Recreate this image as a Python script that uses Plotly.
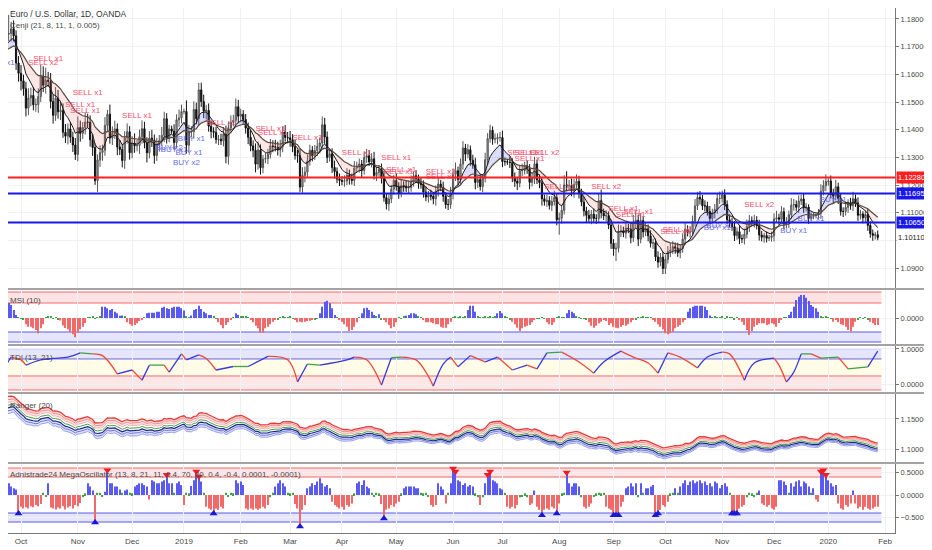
import numpy as np
import pandas as pd
import plotly.graph_objects as go
from plotly.subplots import make_subplots

# EUR/USD daily candles, OANDA, 19 Sep 2018 .. 29 Jan 2020 (one value per trading day)
first_open = 1.1669
closes = [
    1.1672, 1.1777, 1.1745, 1.1748, 1.1765, 1.1739, 1.1641, 1.1604, 1.1577, 1.1548,
    1.1478, 1.1515, 1.1524, 1.1490, 1.1491, 1.1520, 1.1594, 1.1561, 1.1579, 1.1575,
    1.1502, 1.1452, 1.1514, 1.1465, 1.1470, 1.1391, 1.1377, 1.1403, 1.1373, 1.1345,
    1.1311, 1.1408, 1.1387, 1.1408, 1.1428, 1.1427, 1.1364, 1.1336, 1.1216, 1.1291,
    1.1318, 1.1326, 1.1416, 1.1456, 1.1370, 1.1387, 1.1403, 1.1338, 1.1329, 1.1289,
    1.1370, 1.1393, 1.1317, 1.1352, 1.1342, 1.1343, 1.1375, 1.1404, 1.1353, 1.1317,
    1.1370, 1.1363, 1.1307, 1.1346, 1.1361, 1.1380, 1.1440, 1.1370, 1.1403, 1.1395,
    1.1354, 1.1436, 1.1443, 1.1466, 1.1466, 1.1344, 1.1393, 1.1393, 1.1473, 1.1440,
    1.1544, 1.1502, 1.1467, 1.1470, 1.1413, 1.1394, 1.1391, 1.1365, 1.1366, 1.1360,
    1.1385, 1.1304, 1.1407, 1.1427, 1.1434, 1.1483, 1.1449, 1.1456, 1.1437, 1.1406,
    1.1373, 1.1342, 1.1326, 1.1276, 1.1327, 1.1263, 1.1294, 1.1296, 1.1311, 1.1342,
    1.1339, 1.1337, 1.1327, 1.1339, 1.1392, 1.1372, 1.1371, 1.1364, 1.1339, 1.1307,
    1.1306, 1.1193, 1.1235, 1.1247, 1.1286, 1.1326, 1.1306, 1.1325, 1.1340, 1.1352,
    1.1418, 1.1374, 1.1300, 1.1313, 1.1264, 1.1249, 1.1222, 1.1217, 1.1214, 1.1215,
    1.1236, 1.1222, 1.1217, 1.1262, 1.1265, 1.1276, 1.1253, 1.1300, 1.1306, 1.1284,
    1.1295, 1.1235, 1.1246, 1.1258, 1.1226, 1.1155, 1.1132, 1.1150, 1.1186, 1.1217,
    1.1195, 1.1171, 1.1199, 1.1196, 1.1190, 1.1191, 1.1215, 1.1234, 1.1223, 1.1207,
    1.1202, 1.1175, 1.1157, 1.1164, 1.1160, 1.1151, 1.1179, 1.1204, 1.1193, 1.1160,
    1.1130, 1.1130, 1.1169, 1.1240, 1.1252, 1.1220, 1.1276, 1.1334, 1.1312, 1.1328,
    1.1290, 1.1274, 1.1210, 1.1220, 1.1195, 1.1225, 1.1292, 1.1368, 1.1398, 1.1366,
    1.1367, 1.1372, 1.1372, 1.1285, 1.1285, 1.1283, 1.1282, 1.1226, 1.1214, 1.1207,
    1.1252, 1.1253, 1.1270, 1.1261, 1.1210, 1.1224, 1.1277, 1.1219, 1.1209, 1.1151,
    1.1141, 1.1145, 1.1127, 1.1141, 1.1155, 1.1075, 1.1081, 1.1109, 1.1201, 1.1198,
    1.1199, 1.1180, 1.1202, 1.1214, 1.1172, 1.1139, 1.1107, 1.1091, 1.1079, 1.1095,
    1.1080, 1.1080, 1.1144, 1.1100, 1.1089, 1.1090, 1.1056, 1.0990, 1.0970, 1.0972,
    1.1033, 1.1035, 1.1027, 1.1045, 1.1042, 1.1010, 1.1063, 1.1073, 1.1005, 1.1072,
    1.1031, 1.1043, 1.1017, 1.0990, 1.0992, 1.0941, 1.0922, 1.0940, 1.0899, 1.0932,
    1.0960, 1.0966, 1.0978, 1.0972, 1.0956, 1.0971, 1.1005, 1.1040, 1.1030, 1.1032,
    1.1070, 1.1125, 1.1156, 1.1150, 1.1125, 1.1125, 1.1105, 1.1080, 1.1100, 1.1112,
    1.1152, 1.1152, 1.1165, 1.1130, 1.1075, 1.1067, 1.1050, 1.1018, 1.1032, 1.1007,
    1.1006, 1.1023, 1.1051, 1.1072, 1.1067, 1.1073, 1.1055, 1.1020, 1.1012, 1.1018,
    1.1008, 1.1011, 1.1017, 1.1078, 1.1082, 1.1077, 1.1104, 1.1060, 1.1065, 1.1093,
    1.1128, 1.1130, 1.1120, 1.1143, 1.1150, 1.1120, 1.1121, 1.1080, 1.1087, 1.1090,
    1.1092, 1.1099, 1.1178, 1.1198, 1.1213, 1.1215, 1.1172, 1.1160, 1.1194, 1.1152,
    1.1105, 1.1105, 1.1120, 1.1134, 1.1126, 1.1151, 1.1136, 1.1091, 1.1096, 1.1082,
    1.1094, 1.1055, 1.1025, 1.1019, 1.1021, 1.1011,
]
# wick length above / below the candle body, in pips
wick_up = [
    30, 45, 35, 67, 25, 30, 20, 25, 30, 22,  25, 35, 28, 30, 22, 30, 40, 35, 45, 30,
    30, 25, 40, 30, 35, 25, 30, 20, 25, 20,  25, 40, 25, 20, 35, 30, 25, 20, 15, 20,
    25, 20, 30, 16, 35, 25, 30, 20, 25, 20,  25, 30, 20, 25, 35, 20, 25, 30, 25, 20,
    25, 30, 20, 25, 20, 30, 25, 20, 15, 12,  25, 20, 30, 25, 10, 40, 25, 20, 30, 25,
    25, 26, 25, 20, 25, 20, 15, 20, 15, 20,  25, 30, 20, 25, 20, 30, 25, 20, 15, 20,
    20, 25, 20, 25, 30, 20, 15, 20, 20, 25,  20, 25, 20, 25, 20, 25, 20, 25, 20, 25,
    20, 25, 30, 20, 25, 20, 15, 20, 25, 20,  30, 25, 20, 15, 20, 25, 15, 20, 15, 20,
    25, 20, 20, 25, 20, 20, 15, 20, 25, 20,  20, 25, 20, 15, 20, 25, 15, 20, 15, 20,
    25, 15, 20, 15, 20, 25, 20, 15, 20, 15,  20, 15, 20, 15, 20, 15, 20, 25, 15, 20,
    15, 20, 25, 20, 30, 15, 20, 25, 15, 20,  15, 20, 25, 15, 20, 15, 25, 20, 20, 14,
    20, 15, 20, 25, 15, 10, 20, 15, 20, 15,  20, 25, 15, 20, 15, 20, 25, 15, 20, 15,
    15, 20, 15, 20, 25, 15, 20, 20, 35, 49,  20, 25, 20, 25, 20, 15, 20, 15, 20, 15,
    20, 15, 25, 40, 15, 20, 15, 20, 15, 20,  25, 20, 15, 20, 15, 20, 30, 35, 20, 25,
    15, 20, 15, 20, 15, 15, 20, 15, 20, 15,  20, 25, 20, 15, 20, 15, 20, 25, 15, 20,
    20, 25, 20, 23, 15, 20, 15, 20, 15, 20,  20, 25, 15, 20, 15, 20, 15, 20, 15, 20,
    15, 20, 25, 20, 15, 20, 15, 20, 15, 10,  15, 10, 15, 20, 25, 15, 20, 15, 20, 15,
    25, 20, 15, 20, 15, 20, 15, 10, 15, 10,   5, 15, 25, 20, 26, 10, 20, 15, 25, 15,
    20, 15, 20, 15, 20, 25, 15, 20, 15, 10,  15, 20, 15, 15, 10, 15,
]
wick_dn = [
    20, 25, 30, 25, 30, 20, 25, 30, 35, 25,  30, 25, 30, 20, 25, 30, 20, 25, 30, 20,
    25, 30, 20, 25, 30, 20, 25, 30, 20, 25,  20, 25, 30, 20, 25, 20, 25, 30, 15, 40,
    25, 30, 20, 25, 20, 25, 20, 30, 20, 25,  30, 20, 25, 20, 25, 20, 30, 25, 20, 35,
    20, 25, 30, 20, 25, 20, 25, 20, 15, 10,  25, 20, 25, 20, 10, 30, 25, 20, 25, 20,
    25, 20, 25, 30, 20, 25, 20, 15, 20, 15,  20, 25, 30, 20, 15, 20, 25, 20, 15, 20,
    25, 20, 25, 30, 20, 25, 20, 15, 20, 15,  20, 15, 20, 25, 20, 15, 20, 25, 20, 15,
    25, 17, 20, 25, 20, 15, 20, 15, 20, 25,  20, 25, 20, 15, 20, 25, 15, 20, 15, 20,
    15, 20, 15, 20, 15, 20, 25, 15, 20, 15,  20, 15, 20, 15, 20, 15, 20, 25, 15, 20,
    15, 20, 15, 20, 15, 20, 15, 20, 15, 20,  15, 20, 15, 20, 15, 20, 25, 20, 15, 20,
    15, 20, 15, 20, 25, 20, 15, 20, 25, 15,  20, 15, 25, 20, 15, 20, 15, 20, 15, 20,
    15, 20, 15, 20, 15, 10, 20, 15, 20, 25,  15, 20, 15, 20, 25, 15, 20, 15, 20, 25,
    15, 20, 15, 20, 15, 20, 54, 20, 15, 20,  15, 20, 25, 15, 20, 15, 20, 25, 15, 20,
    15, 20, 15, 20, 15, 20, 15, 20, 25, 44,  15, 20, 15, 20, 15, 20, 15, 20, 25, 15,
    20, 15, 20, 15, 20, 15, 20, 15, 20, 20,  15, 20, 15, 20, 15, 20, 15, 20, 15, 20,
    15, 20, 15, 20, 15, 20, 15, 20, 15, 20,  15, 20, 15, 20, 15, 20, 15, 20, 15, 20,
    15, 20, 15, 20, 15, 20, 15, 20, 15, 20,  15, 10, 15, 20, 15, 20, 15, 20, 15, 20,
    15, 20, 15, 20, 15, 20, 15, 20, 10, 10,  10, 15, 20, 15, 20, 15, 20, 25, 15, 20,
    15, 20, 15, 20, 15, 20, 15, 20, 15, 20,  15, 20, 15, 20, 15, 10,
]

# price levels marked on the chart and the last price
level_prices = [1.12280, 1.11695, 1.10650]
last_price = 1.10110

# Cenji signal labels: bar number, price, text
sig_bar = [0, 19, 17, 35, 32, 34, 55, 77, 76, 75,
           68, 70, 89, 109, 110, 124, 144, 160, 161, 162,
           178, 178, 211, 214, 220, 214, 226, 245, 252, 255,
           258, 273, 274, 290, 291, 307, 321, 328, 337]
sig_price = [1.1641, 1.1656, 1.1641, 1.1533, 1.1490, 1.1468, 1.1450, 1.1367, 1.1316, 1.1280,
             1.1334, 1.1327, 1.1425, 1.1403, 1.1388, 1.1370, 1.1316, 1.1298, 1.1248, 1.1255,
             1.1248, 1.1230, 1.1316, 1.1316, 1.1316, 1.1295, 1.1193, 1.1193, 1.1114, 1.1092,
             1.1103, 1.1031, 1.1038, 1.1045, 1.1053, 1.1129, 1.1035, 1.1078, 1.1147]
sig_text = ['BUY x1', 'SELL x1', 'SELL x2', 'SELL x1', 'SELL x1', 'SELL x1', 'SELL x1', 'BUY x1', 'BUY x1', 'BUY x2',
            'BUY x2', 'BUY x1', 'SELL x1', 'SELL x1', 'SELL x1', 'SELL x1', 'SELL x1', 'SELL x1', 'SELL x1', 'SELL x1',
            'SELL x2', 'SELL x1', 'SELL x1', 'SELL x1', 'SELL x2', 'SELL x1', 'SELL x1', 'SELL x2', 'SELL x1', 'SELL x1',
            'SELL x1', 'SELL x1', 'SELL x1', 'BUY x1', 'BUY x1', 'SELL x2', 'BUY x1', 'BUY x1', 'BUY x1']

# MSI (10) histogram, one value per bar
msi = [
    0.32, 0.44, 0.64, 0.60, 0.52, 0.32, 0.12, 0.04, -0.03, -0.05,
    -0.25, -0.35, -0.35, -0.41, -0.48, -0.61, -0.41, -0.25, 0.04, 0.06,
    0.05, -0.04, 0.03, -0.06, -0.10, -0.30, -0.40, -0.45, -0.55, -0.65,
    -0.77, -0.60, -0.45, -0.35, -0.20, 0.03, 0.04, 0.05, -0.03, 0.04,
    0.05, 0.45, 0.45, 0.39, 0.32, 0.36, 0.25, 0.19, 0.09, 0.10,
    0.05, -0.17, -0.25, -0.31, -0.28, -0.21, -0.12, -0.08, 0.03, 0.19,
    0.21, 0.21, 0.21, 0.25, 0.25, 0.41, 0.45, 0.39, 0.36, 0.41,
    0.45, 0.45, 0.45, 0.39, 0.30, 0.05, 0.04, 0.10, 0.32, 0.36,
    0.49, 0.36, 0.25, 0.19, 0.12, 0.12, 0.05, -0.03, -0.17, -0.28,
    -0.41, -0.28, -0.17, -0.08, 0.04, 0.19, 0.12, 0.05, 0.05, 0.05,
    0.04, -0.08, -0.17, -0.31, -0.41, -0.59, -0.59, -0.41, -0.35, -0.25,
    -0.15, -0.08, -0.05, 0.04, 0.05, 0.03, 0.04, 0.05, -0.03, -0.08,
    -0.17, -0.15, -0.17, -0.15, -0.12, -0.11, -0.08, -0.05, -0.04, 0.19,
    0.45, 0.65, 0.69, 0.59, 0.39, 0.12, 0.04, -0.08, -0.15, -0.25,
    -0.35, -0.52, -0.48, -0.35, -0.17, 0.04, 0.19, 0.39, 0.41, 0.32,
    0.25, 0.12, 0.05, 0.15, -0.05, -0.08, -0.17, -0.28, -0.41, -0.35,
    -0.17, 0.03, -0.04, 0.05, 0.09, 0.12, 0.19, 0.19, 0.15, 0.05,
    0.03, -0.08, -0.17, -0.17, -0.17, -0.21, -0.25, -0.25, -0.35, -0.39,
    -0.39, -0.25, -0.15, 0.04, 0.05, 0.04, 0.05, 0.03, 0.05, 0.32,
    0.49, 0.49, 0.25, 0.05, 0.04, 0.03, 0.05, 0.04, 0.05, 0.04,
    0.05, 0.19, 0.28, 0.19, 0.05, 0.04, -0.05, -0.15, -0.25, -0.39,
    -0.52, -0.41, -0.35, -0.31, -0.28, -0.17, -0.08, -0.04, -0.03, 0.02,
    -0.02, -0.17, -0.25, -0.28, -0.17, 0.04, 0.05, 0.03, 0.04, 0.19,
    0.32, 0.25, 0.19, 0.05, 0.02, -0.03, -0.04, -0.05, -0.17, -0.31,
    -0.39, -0.31, -0.21, -0.15, -0.08, -0.12, -0.28, -0.21, -0.35, -0.39,
    -0.41, -0.35, -0.28, -0.31, -0.25, -0.17, -0.08, -0.05, 0.03, 0.04,
    0.05, 0.04, 0.03, 0.02, -0.08, -0.15, -0.25, -0.35, -0.45, -0.61,
    -0.65, -0.61, -0.55, -0.41, -0.35, -0.28, -0.17, -0.08, 0.25, 0.39,
    0.45, 0.49, 0.49, 0.49, 0.49, 0.45, 0.32, 0.10, 0.04, 0.05,
    0.04, 0.03, 0.05, -0.04, 0.05, 0.04, 0.03, -0.05, 0.04, -0.08,
    -0.15, -0.28, -0.48, -0.68, -0.52, -0.35, -0.28, -0.21, -0.21, -0.21,
    -0.28, -0.25, -0.21, -0.25, -0.35, -0.20, -0.08, 0.03, 0.04, 0.12,
    0.25, 0.45, 0.72, 0.85, 0.92, 0.92, 0.81, 0.68, 0.52, 0.45,
    0.39, 0.25, 0.05, 0.04, 0.05, 0.03, -0.04, -0.15, -0.08, -0.17,
    -0.25, -0.28, -0.35, -0.48, -0.55, -0.35, -0.15, -0.05, 0.04, -0.04,
    0.03, -0.05, -0.15, -0.21, -0.28, -0.28,
]

# TDI (13, 21) line, read at turning points: bar number and value
tdi_bar = [0, 4, 8, 10, 16, 21, 27, 32, 37, 41, 47, 53, 57, 60, 66, 68, 73, 75, 80, 83,
           87, 94, 100, 108, 116, 120, 124, 129, 140, 143, 148, 154, 158, 162, 168, 172, 175, 179, 182, 185,
           190, 196, 201, 207, 213, 217, 221, 227, 234, 240, 244, 251, 256, 262, 266, 270, 275, 282, 286, 292,
           295, 301, 305, 313, 315, 318, 321, 324, 328, 332, 339, 343, 347, 351, 355]
tdi_value = [0.34, 0.77, 0.69, 0.54, 0.69, 0.73, 0.77, 0.89, 0.86, 0.81, 0.29, 0.40, 0.11, 0.54, 0.54, 0.34, 0.86, 0.69, 0.83, 0.73,
             0.40, 0.50, 0.50, 0.79, 0.69, 0.06, 0.57, 0.54, 0.69, 0.77, 0.69, -0.03, 0.75, 0.77, 0.69, 0.34, -0.06, 0.57, 0.77, 0.49,
             0.81, 0.63, 0.77, 0.40, 0.54, 0.43, 0.89, 0.91, 0.63, 0.31, 0.63, 0.94, 0.77, 0.60, 0.31, 0.89, 0.77, 0.46, 0.77, 0.91,
             0.86, 0.11, 0.60, 0.74, 0.54, 0.06, 0.34, 0.86, 0.86, 0.74, 0.77, 0.43, 0.46, 0.49, 0.94]

# MegaOscillator histogram, one value per bar
mega = [
    0.19, 0.50, 0.19, 0.26, 0.19, 0.15, 0.12, -0.41, -0.26, -0.30,
    -0.27, -0.30, -0.25, -0.27, -0.22, -0.25, -0.20, 0.05, -0.04, 0.26,
    -0.28, -0.30, -0.32, -0.28, -0.30, -0.25, -0.32, -0.28, -0.25, -0.30,
    -0.22, -0.25, -0.18, -0.05, 0.04, 0.26, 0.19, 0.10, -0.61, 0.05,
    0.05, -0.04, 0.07, 0.55, 0.26, 0.26, 0.19, 0.19, 0.12, 0.05,
    0.10, 0.12, 0.05, 0.04, 0.19, 0.22, 0.26, 0.26, 0.22, 0.19,
    -0.10, 0.33, 0.30, 0.26, 0.26, 0.30, 0.33, 0.45, 0.26, 0.26,
    0.05, 0.26, 0.30, 0.22, -0.22, 0.05, 0.04, 0.20, 0.33, 0.52,
    0.41, 0.30, 0.05, -0.26, -0.30, -0.33, -0.41, -0.30, -0.33, -0.26,
    -0.30, 0.05, -0.04, 0.05, 0.04, 0.33, 0.26, 0.30, 0.22, -0.30,
    -0.33, -0.30, -0.33, -0.30, -0.33, -0.30, -0.26, -0.30, -0.22, -0.05,
    0.05, 0.19, 0.26, 0.33, 0.26, 0.19, 0.05, 0.04, 0.05, -0.20,
    -0.30, -0.70, -0.33, -0.22, 0.15, 0.19, 0.26, 0.22, 0.30, 0.37,
    0.26, 0.19, 0.22, 0.15, -0.15, -0.22, -0.26, -0.30, -0.26, -0.33,
    -0.22, -0.26, -0.19, 0.04, 0.26, 0.30, 0.22, 0.33, 0.19, 0.15,
    0.05, -0.04, 0.05, 0.04, -0.20, -0.52, -0.33, -0.30, -0.22, -0.26,
    -0.19, -0.15, 0.04, 0.15, 0.19, 0.19, 0.19, 0.19, 0.15, 0.15,
    0.05, 0.04, 0.05, -0.04, -0.22, -0.26, -0.22, 0.26, 0.19, 0.12,
    -0.19, 0.05, 0.26, 0.59, 0.52, 0.33, 0.30, 0.22, 0.26, 0.19,
    0.22, 0.19, 0.04, -0.05, -0.22, -0.05, 0.26, 0.45, 0.52, 0.33,
    0.30, 0.26, 0.15, 0.12, 0.05, -0.26, -0.30, -0.26, -0.30, -0.22,
    -0.05, -0.04, 0.04, -0.05, -0.22, -0.19, 0.10, -0.26, -0.33, -0.45,
    -0.33, -0.30, -0.33, -0.26, -0.30, -0.41, -0.19, 0.04, 0.05, 0.50,
    0.26, 0.19, 0.26, 0.26, 0.19, -0.05, -0.26, -0.30, -0.26, -0.19,
    -0.04, 0.04, 0.05, 0.04, 0.05, -0.26, -0.30, -0.33, -0.45, -0.45,
    -0.45, -0.26, -0.15, 0.15, 0.19, 0.26, 0.19, 0.26, -0.05, 0.26,
    0.05, 0.15, 0.15, 0.19, 0.22, -0.45, -0.41, -0.33, -0.22, -0.26,
    -0.15, 0.04, 0.05, 0.15, 0.05, 0.19, 0.26, 0.33, 0.22, 0.30,
    0.33, 0.26, 0.30, 0.33, 0.26, 0.30, 0.22, 0.26, 0.19, 0.30,
    0.26, 0.15, 0.22, 0.26, 0.19, 0.05, -0.41, -0.41, -0.41, -0.30,
    -0.26, -0.22, -0.05, 0.05, 0.04, -0.05, 0.05, 0.10, -0.19, -0.22,
    -0.26, -0.22, -0.30, -0.33, -0.26, 0.33, 0.33, 0.30, 0.22, 0.05,
    0.26, 0.19, 0.30, 0.33, 0.19, 0.30, 0.26, 0.19, 0.05, 0.15,
    -0.10, -0.15, 0.52, 0.55, 0.45, 0.33, 0.26, 0.19, 0.22, -0.19,
    -0.30, -0.33, -0.22, -0.26, -0.19, 0.10, -0.19, -0.30, -0.26, -0.33,
    -0.26, -0.30, -0.33, -0.30, -0.26, -0.26,
]

N = len(closes)
assert len(wick_up) == N and len(wick_dn) == N and len(msi) == N and len(mega) == N

FONT = 'Liberation Sans, Arial, sans-serif'
TXT = '#4a4a4a'
GRID = '#eef0f4'
BLUE = '#5a5af0'
RED = '#f06a6a'
GREEN = '#43a047'

# the page puts the figure 8px in from the window's top-left corner,
# so the figure is 8px smaller and the plot starts at screen (8, 8)
W, H = 924, 542
PLOT_H = 525

def ypaper(screen_y):
    return 1 - (screen_y - 8) / PLOT_H

idx = np.arange(N)
opens = [first_open] + closes[:-1]
highs = [max(o, c) + u / 10000 for o, c, u in zip(opens, closes, wick_up)]
lows = [min(o, c) - d / 10000 for o, c, d in zip(opens, closes, wick_dn)]

# trading-day calendar, used for the month ticks
cal = pd.bdate_range('2018-09-19', '2020-02-07')
tick_pos = [i for i in range(1, len(cal)) if cal[i].month != cal[i - 1].month]
tick_txt = [str(cal[i].year) if cal[i].month == 1 else cal[i].strftime('%b') for i in tick_pos]

fig = make_subplots(rows=5, cols=1, shared_xaxes=True, vertical_spacing=0,
                    row_heights=[281, 56, 48, 70, 70])

# ---- price panel: Cenji cloud, candles, levels, signals ----
px = pd.Series(closes)
fast = px.ewm(span=8, adjust=False).mean().values
slow = px.ewm(span=21, adjust=False).mean().values

def flat(y, **kw):
    return go.Scatter(x=idx, y=y, mode='lines', line=dict(width=0), hoverinfo='skip', **kw)

fig.add_trace(flat(slow), 1, 1)
fig.add_trace(flat(np.maximum(fast, slow), fill='tonexty', fillcolor='rgba(95,95,235,0.22)'), 1, 1)
fig.add_trace(flat(slow), 1, 1)
fig.add_trace(flat(np.minimum(fast, slow), fill='tonexty', fillcolor='rgba(235,105,105,0.17)'), 1, 1)

fig.add_trace(go.Candlestick(
    x=idx, open=opens, high=highs, low=lows, close=closes, whiskerwidth=0,
    increasing=dict(line=dict(color='#555555', width=1), fillcolor='#a8a8a8'),
    decreasing=dict(line=dict(color='#111111', width=1), fillcolor='#111111'),
    hoverinfo='skip'), 1, 1)

fig.add_trace(go.Scatter(x=idx, y=slow, mode='lines', line=dict(color='#5b4b3b', width=1.2)), 1, 1)
fig.add_trace(go.Scatter(x=idx, y=fast, mode='lines', line=dict(color='#1b1b1b', width=1)), 1, 1)

level_colors = ['#ff1f1f', '#1818e8', '#1818e8']
for lv, col in zip(level_prices, level_colors):
    fig.add_hline(y=lv, line=dict(color=col, width=2), row=1, col=1)

fig.add_trace(go.Scatter(
    x=sig_bar, y=sig_price, mode='text', text=sig_text,
    textfont=dict(size=8, family=FONT,
                  color=['#f0506e' if t.startswith('SELL') else '#6a6ae6' for t in sig_text])), 1, 1)

# ---- MSI ----
def bar_colors(vals):
    return [BLUE if v > 0.06 else (RED if v < -0.06 else GREEN) for v in vals]

fig.add_trace(go.Bar(x=idx, y=msi, width=0.45, marker=dict(color=bar_colors(msi), line=dict(width=0))), 2, 1)

# ---- TDI, coloured by direction ----
runs = []
for k in range(len(tdi_value) - 1):
    d = tdi_value[k + 1] - tdi_value[k]
    col = '#3a3ad8' if d > 0.04 else ('#ea4a3c' if d < -0.04 else GREEN)
    if runs and runs[-1][0] == col:
        runs[-1][1].append(k + 1)
    else:
        runs.append([col, [k, k + 1]])
for col, ks in runs:
    fig.add_trace(go.Scatter(x=[tdi_bar[k] for k in ks], y=[tdi_value[k] for k in ks], mode='lines',
                             line=dict(color=col, width=1.3, shape='spline', smoothing=1.0)), 3, 1)

# ---- Ranger ----
rng = pd.Series(np.array(highs) - np.array(lows)).rolling(20, min_periods=1).mean().values
mid = px.ewm(span=4, adjust=False).mean().values
unit = 0.45 * rng
ranger = [
    (1, '#f5b0b0', 1, None), (2, '#f08a8a', 1, 'rgba(239,83,80,0.16)'), (3, '#e53935', 1.3, 'rgba(239,83,80,0.16)'),
    (0, '#43a047', 1, None),
    (-1, '#1f2a8a', 1.2, None), (-2, '#6f79d8', 1, 'rgba(92,107,220,0.2)'), (-3, '#9aa3ec', 1, 'rgba(92,107,220,0.2)'),
]
for k, col, w, fc in ranger:
    fig.add_trace(go.Scatter(x=idx, y=mid + k * unit, mode='lines', line=dict(color=col, width=w),
                             fill='tonexty' if fc else None, fillcolor=fc), 4, 1)

# ---- MegaOscillator ----
fig.add_trace(go.Bar(x=idx, y=mega, width=0.45, marker=dict(color=bar_colors(mega), line=dict(width=0))), 5, 1)
top = [(i, v) for i, v in enumerate(mega) if v >= 0.4]
bot = [(i, v) for i, v in enumerate(mega) if v <= -0.4]
fig.add_trace(go.Scatter(x=[i for i, _ in top], y=[v for _, v in top], mode='markers',
                         marker=dict(symbol='triangle-down', size=7, color='#ee1c25')), 5, 1)
fig.add_trace(go.Scatter(x=[i for i, _ in bot], y=[v for _, v in bot], mode='markers',
                         marker=dict(symbol='triangle-up', size=7, color='#1a1ad6')), 5, 1)

# ---- indicator bands ----
def band(row, y0, y1, fill, col):
    fig.add_shape(type='rect', x0=-0.5, x1=N + 0.5, y0=y0, y1=y1, fillcolor=fill,
                  line=dict(width=0), layer='below', row=row, col=1)
    for y in (y0, y1):
        fig.add_shape(type='line', x0=-0.5, x1=N + 0.5, y0=y, y1=y,
                      line=dict(color=col, width=1), layer='below', row=row, col=1)

band(2, 0.60, 1.04, 'rgba(242,80,80,0.16)', '#ef6b6b')
band(2, -0.96, -0.56, 'rgba(70,80,235,0.14)', '#5b5be6')
band(3, 0.714, 1.01, 'rgba(70,80,235,0.14)', '#5b5be6')
fig.add_shape(type='rect', x0=-0.5, x1=N + 0.5, y0=0.229, y1=0.714, fillcolor='rgba(255,240,120,0.18)',
              line=dict(width=0), layer='below', row=3, col=1)
band(3, -0.171, 0.229, 'rgba(242,80,80,0.14)', '#ef6b6b')
band(5, 0.4, 0.6, 'rgba(242,80,80,0.16)', '#ef6b6b')
band(5, -0.6, -0.4, 'rgba(70,80,235,0.14)', '#5b5be6')

# ---- axes ----
fig.update_xaxes(range=[2.73, 362], tickvals=tick_pos, ticktext=tick_txt, showgrid=True, gridcolor=GRID,
                 showticklabels=False, zeroline=False, rangeslider_visible=False, ticks='')
fig.update_xaxes(showticklabels=True, tickfont=dict(size=8, color=TXT, family=FONT),
                 showline=True, linecolor='#777777', row=5, col=1)
fig.update_yaxes(side='right', showgrid=True, gridcolor=GRID, zeroline=False, showline=True,
                 linecolor='#777777', ticks='outside', ticklen=3, tickcolor='#777777',
                 tickfont=dict(size=7.5, color=TXT, family=FONT), tickformat='.5f', automargin=False)
fig.update_yaxes(range=[1.0825, 1.18397], tickvals=[round(1.09 + 0.01 * k, 2) for k in range(10)], row=1, col=1)
fig.update_yaxes(range=[-1.08, 1.16], tickvals=[0], row=2, col=1)
fig.update_yaxes(range=[-0.257, 1.114], tickvals=[0, 1], row=3, col=1)
fig.update_yaxes(range=[1.0767, 1.1933], tickvals=[1.10, 1.15], row=4, col=1)
fig.update_yaxes(range=[-0.844, 0.711], tickvals=[-0.5, 0, 0.5], row=5, col=1)

# panel separators
for ax in ['yaxis2', 'yaxis3', 'yaxis4', 'yaxis5']:
    y = fig.layout[ax].domain[1]
    fig.add_shape(type='line', xref='paper', yref='paper', x0=0, x1=1.05, y0=y, y1=y,
                  line=dict(color='#a3a3a3', width=2))

# price tags on the right scale
tags = [(level_prices[0], '#ff1f1f', 'white'), (level_prices[1], '#1818e8', 'white'),
        (level_prices[2], '#1818e8', 'white'), (last_price, 'white', '#222222')]
for val, bg, fg in tags:
    fig.add_annotation(xref='paper', yref='y', x=1, y=val, xanchor='left', xshift=1, text=f'{val:.5f}',
                       showarrow=False, bgcolor=bg, borderpad=1,
                       font=dict(size=7.5, color=fg, family=FONT))

# legend texts
def note(text, screen_y, color=TXT, size=8):
    fig.add_annotation(xref='paper', yref='paper', x=0, y=ypaper(screen_y), xanchor='left',
                       yanchor='middle', text=text, showarrow=False,
                       font=dict(size=size, color=color, family=FONT))

note('Euro / U.S. Dollar, 1D, OANDA', 14, '#333333', 8.5)
note('Cenji (21, 8, 11, 1, 0.005)', 26)
note('MSI (10)', 300)
note('TDI (13, 21)', 357)
note('Ranger (20)', 405)
note('Adnistrade24 MegaOscillator (13, 8, 21, 11, 0.4, 70, 30, 0.4, -0.4, 0.0001, -0.0001)', 474)

fig.update_layout(width=W, height=H, margin=dict(l=0, r=37, t=0, b=H - PLOT_H),
                  paper_bgcolor='white', plot_bgcolor='white', showlegend=False,
                  hovermode=False, font=dict(family=FONT, color=TXT))

fig.write_html('out.html')
